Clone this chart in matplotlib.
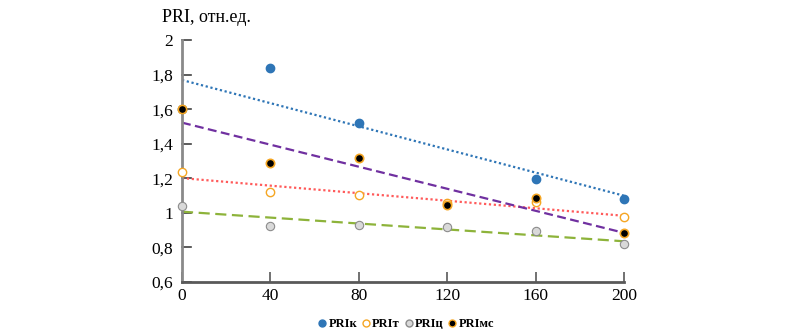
import numpy as np
import matplotlib
matplotlib.use("Agg")
import matplotlib.pyplot as plt
from matplotlib.ticker import FuncFormatter
from matplotlib.lines import Line2D

plt.rcParams['font.family'] = ['Liberation Serif', 'DejaVu Serif']

# data
x_k = [0, 40, 80, 160, 200]
pri_k = [1.60, 1.84, 1.52, 1.196, 1.08]
x_all = [0, 40, 80, 120, 160, 200]
pri_t = [1.236, 1.12, 1.103, 1.057, 1.06, 0.976]
pri_c = [1.04, 0.924, 0.93, 0.918, 0.895, 0.82]
pri_mc = [1.60, 1.288, 1.317, 1.045, 1.086, 0.883]
labels = ["PRIк", "PRIт", "PRIц", "PRIмс"]

fig = plt.figure(figsize=(7.97, 3.35), dpi=100)
ax = fig.add_axes([182/797, 1-282/335, (624-182)/797, (282-40)/335])

def trend(xs, ys, **kw):
    p = np.polyfit(xs, ys, 1); xx = np.array([0, 200])
    ax.plot(xx, np.polyval(p, xx), clip_on=False, **kw)

trend(x_k, pri_k, color="#2e75b6", ls=(0, (1, 1.2)), lw=1.6)
trend(x_all, pri_t, color="#ff5a5a", ls=(0, (1, 1.2)), lw=1.6)
trend(x_all, pri_c, color="#8db33a", ls=(0, (5, 2.5)), lw=1.6)
trend(x_all, pri_mc, color="#7030a0", ls=(0, (4, 2)), lw=1.6)

ms = 6
ax.plot(x_k, pri_k, "o", ms=ms, color="#2e75b6", mec="#2e75b6", clip_on=False, zorder=3)
ax.plot(x_all, pri_t, "o", ms=ms, mfc="white", mec="#f5a623", mew=1.0, clip_on=False, zorder=3)
ax.plot(x_all, pri_c, "o", ms=ms, mfc="#d9d9d9", mec="#8c8c8c", mew=0.8, clip_on=False, zorder=3)
ax.plot(x_all, pri_mc, "o", ms=ms, mfc="black", mec="#f5a623", mew=1.2, clip_on=False, zorder=4)

ax.set_xlim(0, 200); ax.set_ylim(0.6, 2.0)
ax.set_xticks([0, 40, 80, 120, 160, 200])
ax.set_yticks([0.6, 0.8, 1.0, 1.2, 1.4, 1.6, 1.8, 2.0])
ax.yaxis.set_major_formatter(FuncFormatter(lambda v, p: f"{v:g}".replace(".", ",")))
for s in ("top", "right"): ax.spines[s].set_visible(False)
ax.spines["left"].set_color("#8a8a8a"); ax.spines["left"].set_linewidth(2)
ax.spines["bottom"].set_color("#595959"); ax.spines["bottom"].set_linewidth(2)
ax.tick_params(direction="in", length=7, width=1.2, color="#595959", labelsize=12.5, pad=4)
ax.tick_params(axis="y", direction="out", length=0, pad=6.5)
for yv in [0.6, 0.8, 1.0, 1.2, 1.4, 1.6, 1.8, 2.0]:
    ax.plot([0, 4], [yv, yv], color="#404040", lw=1.2, clip_on=False, zorder=1)

fig.text(162/797, 1-17/335, "PRI, отн.ед.", fontsize=13, va="center", ha="left")

handles = [
    Line2D([], [], ls="none", marker="o", ms=5, color="#2e75b6"),
    Line2D([], [], ls="none", marker="o", ms=5, mfc="white", mec="#f5a623"),
    Line2D([], [], ls="none", marker="o", ms=5, mfc="#d9d9d9", mec="#8c8c8c"),
    Line2D([], [], ls="none", marker="o", ms=5, mfc="black", mec="#f5a623"),
]
fig.legend(handles, labels, loc="center", bbox_to_anchor=(405/797, 1-324/335), ncol=4,
           frameon=False, handletextpad=0.0, columnspacing=0.2, handlelength=1.0,
           prop={"family": "Liberation Serif", "weight": "bold", "size": 9})

fig.savefig("out.png", dpi=100)
